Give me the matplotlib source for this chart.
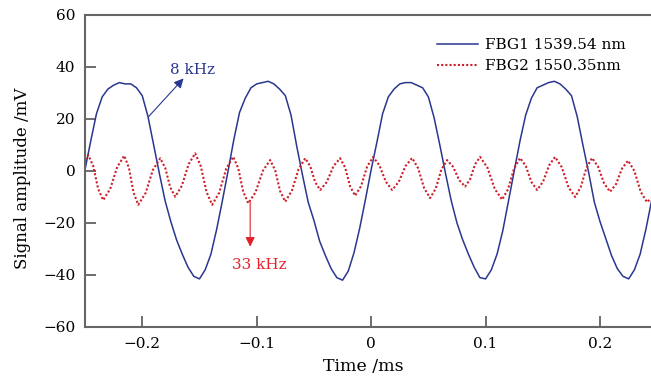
#!/usr/bin/env python
# -*- coding: utf-8 -*-
# FBG1/FBG2 signal amplitude vs time, two vibration frequencies

import matplotlib
matplotlib.use('Agg')
import matplotlib.pyplot as plt
import numpy as np

BLUE = '#2a378f'
RED = '#cc1f2b'

# FBG1: sampled every 0.005 ms starting at -0.25 ms (mV)
blue_t0 = -0.25
blue_dt = 0.005
blue_v = [
    0.5, 11.5, 22, 28.5, 31.5, 33, 34, 33.5, 33.5, 32, 29, 21, 10, -1,
    -11.5, -19.5, -26.5, -32, -37, -40.5, -41.5, -38, -32, -22.5, -11.5,
    0, 12, 22.5, 28, 32, 33.5, 34, 34.5, 33.5, 31.5, 29, 21.5, 9.5, -1.5,
    -12, -19, -27, -32.5, -37.5, -41, -42, -38.5, -31.5, -22, -11,
    0.5, 11, 22, 28.5, 31.5, 33.5, 34, 34, 33, 32, 28.5, 20.5, 10, -1,
    -11.5, -20, -26.5, -32, -37, -41, -41.5, -38, -32, -23, -11.5,
    0, 11.5, 21.5, 28, 32, 33, 34, 34.5, 33.5, 31.5, 29, 21, 10, -0.5,
    -12, -19.5, -26, -32.5, -37.5, -40.5, -41.5, -38, -32, -22.5, -11.5,
]

# FBG2: time (ms) and amplitude (mV)
red_t = [
    -0.2500, -0.2472, -0.2428, -0.2385, -0.2341, -0.2280, -0.2218,
    -0.2157, -0.2116, -0.2076, -0.2035, -0.1971, -0.1907, -0.1843,
    -0.1799, -0.1756, -0.1712, -0.1654, -0.1595, -0.1537, -0.1488,
    -0.1438, -0.1389, -0.1328, -0.1266, -0.1205, -0.1161, -0.1118,
    -0.1074, -0.1010, -0.0946, -0.0882, -0.0838, -0.0795, -0.0751,
    -0.0693, -0.0634, -0.0576, -0.0532, -0.0489, -0.0445, -0.0387,
    -0.0329, -0.0271, -0.0227, -0.0184, -0.0140, -0.0088, -0.0035,
    0.0017, 0.0072, 0.0128, 0.0183, 0.0241, 0.0300, 0.0358, 0.0410,
    0.0463, 0.0515, 0.0565, 0.0614, 0.0664, 0.0716, 0.0769, 0.0821,
    0.0865, 0.0908, 0.0952, 0.1016, 0.1080, 0.1144, 0.1196, 0.1249,
    0.1301, 0.1351, 0.1400, 0.1450, 0.1502, 0.1555, 0.1607, 0.1665,
    0.1724, 0.1782, 0.1831, 0.1881, 0.1930, 0.1982, 0.2035, 0.2087,
    0.2140, 0.2192, 0.2245, 0.2300, 0.2355, 0.2410, 0.2445,
]
red_v = [
    4.5, 6.2, 1.9, -6.9, -11.2, -6.9, 1.6, 5.9, 1.2, -8.3, -13.0, -8.5,
    0.4, 4.9, 1.2, -6.2, -9.9, -5.7, 2.6, 6.8, 1.8, -8.1, -13.0, -8.4,
    0.9, 5.5, 1.0, -7.9, -12.4, -8.2, 0.1, 4.2, 0.2, -7.8, -11.8, -7.6,
    0.7, 4.9, 1.8, -4.3, -7.3, -4.2, 1.9, 4.9, 1.3, -5.9, -9.5, -5.8,
    1.7, 5.4, 2.2, -4.1, -7.3, -4.2, 1.9, 5.0, 1.1, -6.6, -10.4, -6.7,
    0.6, 4.2, 1.6, -3.5, -6.0, -3.1, 2.6, 5.4, 1.3, -6.9, -11.0, -7.0,
    1.0, 5.0, 1.9, -4.2, -7.3, -4.1, 2.2, 5.4, 1.5, -6.2, -10.0, -6.2,
    1.2, 5.0, 1.7, -4.7, -8.0, -5.0, 1.0, 4.0, 0.0, -8.0, -12.0, -10.5,
]

labels = ['FBG1 1539.54 nm', 'FBG2 1550.35nm']
xticks = [-0.2, -0.1, 0, 0.1, 0.2]
yticks = [-60, -40, -20, 0, 20, 40, 60]


def main():
    plt.rcParams['font.family'] = ['DejaVu Serif']
    plt.rcParams['mathtext.fontset'] = 'dejavuserif'

    fig = plt.figure(figsize=(6.51, 3.81), dpi=100)
    ax = fig.add_axes([85 / 651, 1 - 327 / 381, 1 - 85 / 651, 312 / 381])

    bt = blue_t0 + blue_dt * np.arange(len(blue_v))
    ax.plot(bt, blue_v, color=BLUE, lw=1.1, label=labels[0])
    ax.plot(red_t, red_v, color=RED, lw=1.5, ls=(0, (1, 1)),
            label=labels[1])

    ax.set_xlim(-0.25, 0.2445)
    ax.set_ylim(-60, 60)
    ax.set_xticks(xticks)
    ax.set_xticklabels(['\u22120.2', '\u22120.1', '0', '0.1', '0.2'])
    ax.set_yticks(yticks)
    ax.tick_params(direction='in', length=8, width=1.2, color='#555555',
                   labelsize=11, pad=7, top=False, right=False)

    for side in ['left', 'bottom', 'top']:
        ax.spines[side].set_color('#666666')
        ax.spines[side].set_linewidth(1.5)
    ax.spines['right'].set_visible(False)

    ax.set_xlabel('Time /ms', fontsize=12.5)
    ax.set_ylabel('Signal amplitude /mV', fontsize=12)
    ax.xaxis.set_label_coords(0.491, -0.1)
    ax.yaxis.set_label_coords(-0.095, 0.475)

    ax.legend(loc='upper left', bbox_to_anchor=(437 / 651, 0.9),
              bbox_transform=fig.transFigure, frameon=False, fontsize=11,
              borderpad=0, borderaxespad=0, handlelength=2.7,
              handletextpad=0.45, labelspacing=0.45)

    # frequency annotations
    ax.annotate('', xy=(-0.1639, 35.6), xytext=(-0.1945, 20.9),
                arrowprops=dict(arrowstyle='-|>', color=BLUE, lw=0.8,
                                mutation_scale=14, shrinkA=0, shrinkB=0))
    ax.text(-0.1559, 38.8, '8 kHz', color=BLUE, fontsize=11,
            ha='center', va='center')
    ax.annotate('', xy=(-0.1057, -29.1), xytext=(-0.1057, -11.8),
                arrowprops=dict(arrowstyle='-|>', color='#e0202a', lw=0.8,
                                mutation_scale=14, shrinkA=0, shrinkB=0))
    ax.text(-0.0978, -36.2, '33 kHz', color='#e8202a', fontsize=11,
            ha='center', va='center')

    fig.savefig('out.png', dpi=100)


if __name__ == '__main__':
    main()
